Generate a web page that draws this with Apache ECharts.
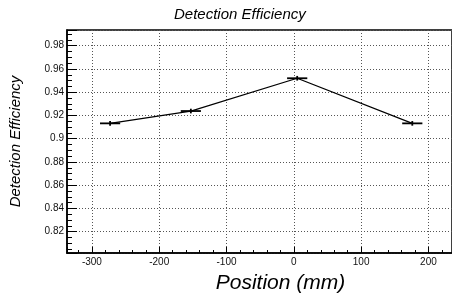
<!DOCTYPE html>
<html>
<head>
<meta charset="utf-8">
<script src="https://cdn.jsdelivr.net/npm/echarts@6/dist/echarts.min.js"></script>
<style>html,body{margin:0;padding:0;background:#fff}#c{width:452px;height:300px}</style>
</head>
<body>
<div id="c"></div>
<script>
var positions = [-273, -153, 5, 176];
var efficiency = [0.9132, 0.9238, 0.952, 0.9132];
var xErr = [15, 15, 15, 15];
var yErr = [0.002, 0.002, 0.002, 0.002];
var titleText = 'Detection Efficiency';
var xTitle = 'Position (mm)';
var yTitle = 'Detection Efficiency';

var pts = positions.map(function (x, i) { return [x, efficiency[i], xErr[i], yErr[i]]; });
var font = 'Liberation Sans, Arial, sans-serif';
var chart = echarts.init(document.getElementById('c'), null, {renderer: 'canvas'});
chart.setOption({
  animation: false,
  backgroundColor: '#fff',
  title: {
    text: titleText, left: 169, top: 2,
    textStyle: {fontFamily: font, fontStyle: 'italic', fontWeight: 'normal', fontSize: 15, color: '#000'}
  },
  grid: {left: 62, top: 30, right: -2, bottom: 47, show: true, borderColor: '#000', borderWidth: 1.5, containLabel: false},
  xAxis: {
    type: 'value', min: -337, max: 235, splitNumber: 5,
    name: xTitle, nameLocation: 'middle', nameGap: 20,
    nameTextStyle: {fontFamily: font, fontStyle: 'italic', fontSize: 21, color: '#000', padding: [0, 0, 0, 42]},
    axisLine: {show: true, onZero: false, lineStyle: {color: '#000', width: 1.5}},
    axisTick: {show: true, inside: true, length: 6, lineStyle: {color: '#000'}},
    minorTick: {show: true, splitNumber: 5, length: 3, lineStyle: {color: '#000'}},
    axisLabel: {fontFamily: font, fontSize: 10, color: '#111', margin: 4, showMinLabel: false, showMaxLabel: false},
    splitLine: {show: true, lineStyle: {color: '#555', type: [1, 2], width: 1}}
  },
  yAxis: {
    type: 'value', min: 0.8017, max: 0.9935, splitNumber: 10,
    name: yTitle, nameLocation: 'middle', nameGap: 44, nameRotate: 90,
    nameTextStyle: {fontFamily: font, fontStyle: 'italic', fontSize: 15, color: '#000', padding: [0, 0, 0, 0]},
    axisLine: {show: true, onZero: false, lineStyle: {color: '#000', width: 1.5}},
    axisTick: {show: true, inside: true, length: 10, lineStyle: {color: '#000'}},
    minorTick: {show: true, splitNumber: 4, length: 5, lineStyle: {color: '#000'}},
    axisLabel: {fontFamily: font, fontSize: 10, color: '#111', margin: 3, showMinLabel: false, showMaxLabel: false,
      formatter: function (v) { return String(+v.toFixed(3)); }},
    splitLine: {show: true, lineStyle: {color: '#555', type: [1, 2], width: 1}}
  },
  series: [
    {
      type: 'line', data: pts.map(function (p) { return [p[0], p[1]]; }),
      symbol: 'none', lineStyle: {color: '#000', width: 1.3}, z: 3
    },
    {
      type: 'custom', data: pts, z: 4,
      renderItem: function (params, api) {
        var x = api.value(0), y = api.value(1), ex = api.value(2), ey = api.value(3);
        var l = api.coord([x - ex, y]), r = api.coord([x + ex, y]);
        var b = api.coord([x, y - ey]), t = api.coord([x, y + ey]);
        return {type: 'group', children: [
          {type: 'line', shape: {x1: l[0], y1: l[1], x2: r[0], y2: r[1]}, style: {stroke: '#000', lineWidth: 1.8}},
          {type: 'line', shape: {x1: b[0], y1: b[1], x2: t[0], y2: t[1]}, style: {stroke: '#000', lineWidth: 1.8}}
        ]};
      }
    }
  ]
});
</script>
</body>
</html>
